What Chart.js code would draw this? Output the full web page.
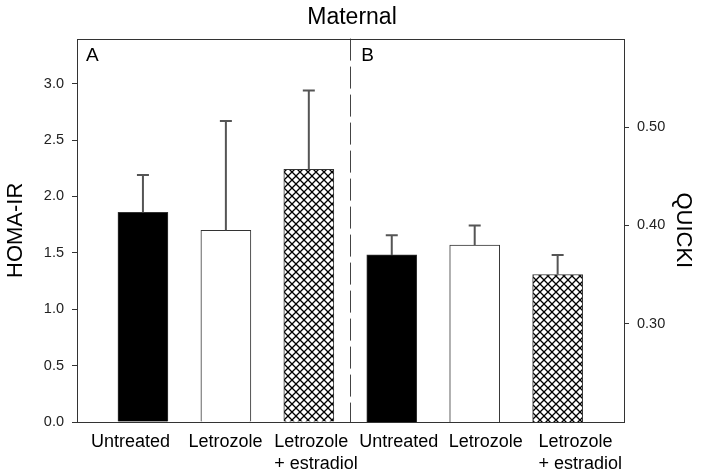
<!DOCTYPE html>
<html>
<head>
<meta charset="utf-8">
<script src="https://cdn.jsdelivr.net/npm/chart.js@4/dist/chart.umd.min.js"></script>
<style>
  html, body { margin: 0; padding: 0; background: #fff; }
</style>
</head>
<body>
<canvas id="chart" width="704" height="473"></canvas>
<script>
'use strict';

// ── Data ─────────────────────────────────────────────────────────────────────
const categories   = [['Untreated'], ['Letrozole'], ['Letrozole', '+ estradiol'],
                      ['Untreated'], ['Letrozole'], ['Letrozole', '+ estradiol']];
const slotsA       = [0, 1, 2];          // panel A groups
const slotsB       = [3, 4, 5];          // panel B groups
// left edge of each category label, in slot units (labels sit a bit off-centre in the original)
const labelStarts  = [-0.627, 0.549, 1.584, 2.608, 3.687, 4.769];
const panelSplit   = 2.5;                // dashed divider between panels
const homaMean     = [1.86, 1.70, 2.24];
const homaSem      = [0.33, 0.97, 0.70];
const quickiMean   = [0.370, 0.380, 0.350];
const quickiSem    = [0.020, 0.020, 0.020];
const homaTicks    = [0, 0.5, 1.0, 1.5, 2.0, 2.5, 3.0];
const quickiTicks  = [0.30, 0.40, 0.50];

// ── Styling ──────────────────────────────────────────────────────────────────
const SANS   = '"Liberation Sans", Arial, sans-serif';
const INK    = '#000000';
const LINE   = '#333333';

/** Diagonal cross-hatch fill used for the letrozole + estradiol bars */
function makeHatch() {
  const c = document.createElement('canvas');
  c.width = 8; c.height = 8;
  const g = c.getContext('2d');
  g.fillStyle = '#ffffff';
  g.fillRect(0, 0, 8, 8);
  g.strokeStyle = '#000000';
  g.lineWidth = 1.3;
  g.beginPath();
  g.moveTo(0, 0); g.lineTo(8, 8);
  g.moveTo(8, 0); g.lineTo(0, 8);
  g.stroke();
  return g.createPattern(c, 'repeat');
}

const hatch = makeHatch();
const fills = ['#000000', '#ffffff', hatch];

// ── Overlay: frame, divider, panel letters, error bars ───────────────────────
const overlay = {
  id: 'overlay',
  afterDatasetsDraw(chart) {
    const { ctx, chartArea: a, scales } = chart;
    ctx.save();

    // error bars (upper only)
    const errs = [
      { meta: chart.getDatasetMeta(0), mean: homaMean,   sem: homaSem,   scale: scales.y  },
      { meta: chart.getDatasetMeta(1), mean: quickiMean, sem: quickiSem, scale: scales.y2 },
    ];
    ctx.strokeStyle = '#555555';
    ctx.lineWidth = 2;
    errs.forEach(e => {
      e.meta.data.forEach((bar, i) => {
        const top = e.scale.getPixelForValue(e.mean[i]);
        const end = e.scale.getPixelForValue(e.mean[i] + e.sem[i]);
        ctx.beginPath();
        ctx.moveTo(bar.x, top);
        ctx.lineTo(bar.x, end);
        ctx.moveTo(bar.x - 6, end);
        ctx.lineTo(bar.x + 6, end);
        ctx.stroke();
      });
    });

    // dashed divider
    const xs = scales.x.getPixelForValue(panelSplit);
    ctx.strokeStyle = '#444444';
    ctx.lineWidth = 1;
    ctx.setLineDash([22, 6]);
    ctx.beginPath();
    ctx.moveTo(Math.round(xs) + 0.5, a.top);
    ctx.lineTo(Math.round(xs) + 0.5, a.bottom);
    ctx.stroke();
    ctx.setLineDash([]);

    // frame
    ctx.strokeStyle = LINE;
    ctx.strokeRect(Math.round(a.left) + 0.5, Math.round(a.top) + 0.5,
                   Math.round(a.right - a.left), Math.round(a.bottom - a.top));

    // panel letters
    ctx.fillStyle = INK;
    ctx.font = `19px ${SANS}`;
    ctx.textBaseline = 'alphabetic';
    ctx.fillText('A', a.left + 9, a.top + 22);
    ctx.fillText('B', xs + 11, a.top + 22);

    ctx.restore();
  },
};

// ── Chart ────────────────────────────────────────────────────────────────────
const ctx = document.getElementById('chart').getContext('2d');
new Chart(ctx, {
  type: 'bar',
  data: {
    datasets: [
      {
        label: 'HOMA-IR',
        data: slotsA.map((x, i) => ({ x, y: homaMean[i] })),
        yAxisID: 'y',
        backgroundColor: fills,
        borderColor: LINE,
        borderWidth: 1,
      },
      {
        label: 'QUICKI',
        data: slotsB.map((x, i) => ({ x, y: quickiMean[i] })),
        yAxisID: 'y2',
        backgroundColor: fills,
        borderColor: LINE,
        borderWidth: 1,
      },
    ],
  },
  options: {
    responsive: false,
    animation: false,
    devicePixelRatio: 1,
    grouped: false,
    barThickness: 50,
    layout: { padding: 0 },
    plugins: {
      legend: { display: false },
      tooltip: { enabled: false },
      title: {
        display: true,
        text: 'Maternal',
        color: INK,
        font: { family: SANS, size: 23, weight: 'normal', lineHeight: 1.2 },
        padding: { top: 4, bottom: 7 },
      },
    },
    scales: {
      x: {
        type: 'linear',
        offset: false,
        min: -0.795,
        max: 5.8,
        afterBuildTicks: s => { s.ticks = labelStarts.map(v => ({ value: v })); },
        afterFit: s => { s.height = 51; },
        grid: { display: false, drawTicks: false, offset: false },
        border: { display: false },
        ticks: {
          autoSkip: false,
          maxRotation: 0,
          align: 'start',
          color: INK,
          padding: 9,
          font: { family: SANS, size: 18, lineHeight: 1.22 },
          callback: (v, i) => categories[i],
        },
      },
      y: {
        type: 'linear',
        position: 'left',
        min: 0,
        max: 3.4,
        afterBuildTicks: s => { s.ticks = homaTicks.map(v => ({ value: v })); },
        afterFit: s => { s.width = 77; },
        grid: { drawOnChartArea: false, drawTicks: true, tickLength: 5, color: LINE },
        border: { display: false },
        ticks: {
          color: '#222222',
          padding: 8,
          font: { family: SANS, size: 14.5 },
          callback: v => v.toFixed(1),
        },
        title: {
          display: true,
          text: 'HOMA-IR',
          color: INK,
          font: { family: SANS, size: 22, lineHeight: 1.2 },
          padding: { top: 3, bottom: 0 },
        },
      },
      y2: {
        type: 'linear',
        position: 'right',
        min: 0.2,
        max: 0.59,
        afterBuildTicks: s => { s.ticks = quickiTicks.map(v => ({ value: v })); },
        afterFit: s => { s.width = 80; },
        grid: { drawOnChartArea: false, drawTicks: true, tickLength: 5, color: LINE },
        border: { display: false },
        ticks: {
          color: '#222222',
          padding: 8,
          font: { family: SANS, size: 14.5 },
          callback: v => v.toFixed(2),
        },
        title: {
          display: true,
          text: 'QUICKI',
          color: INK,
          font: { family: SANS, size: 22, lineHeight: 1.2 },
          padding: { top: 8, bottom: 0 },
        },
      },
    },
  },
  plugins: [overlay],
});
</script>
</body>
</html>
